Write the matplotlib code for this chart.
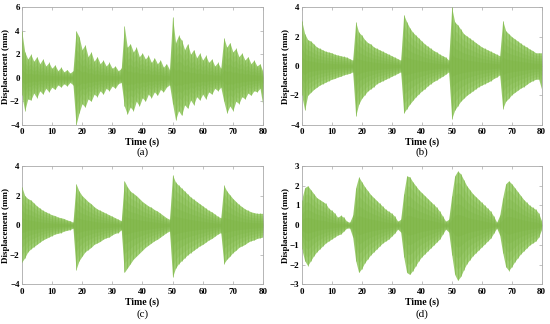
import numpy as np
import matplotlib.pyplot as plt

plt.rcParams['font.family'] = ['Liberation Serif', 'DejaVu Serif']

# time axis (s), one envelope value per second
t = np.arange(0, 81)

# (a) upper / lower envelope of the displacement (mm)
a_up = [4.0, 2.2, 1.6, 2.0, 1.4, 1.8, 1.2, 1.6, 1.0, 1.3, 0.8, 1.1, 0.6, 0.9, 0.5, 0.7, 0.4, 0.6,
        4.0, 3.5, 2.4, 2.8, 1.8, 2.2, 1.4, 1.8, 1.2, 1.5, 1.0, 1.3, 0.8, 1.0, 0.6, 0.8,
        4.4, 2.6, 2.9, 2.2, 2.6, 1.8, 2.1, 1.6, 1.9, 1.3, 1.7, 1.2, 1.5, 0.9, 1.2, 0.7,
        5.2, 3.0, 3.6, 3.2, 2.4, 2.9, 2.0, 2.4, 1.7, 2.1, 1.5, 1.9, 1.3, 1.6, 1.0, 1.3, 0.8,
        3.4, 2.6, 3.0, 2.2, 2.5, 1.8, 2.1, 1.5, 1.8, 1.2, 1.5, 1.0, 1.2, 0.5]
a_lo = [-1.5, -2.8, -1.8, -1.9, -1.3, -1.7, -1.1, -1.4, -0.9, -1.2, -0.8, -1.0, -0.6, -0.8, -0.5, -0.7, -0.4, -0.6,
        -4.0, -3.0, -2.2, -2.5, -1.8, -2.0, -1.4, -1.6, -1.1, -1.4, -0.9, -1.1, -0.7, -0.9, -0.5, -0.4,
        -2.4, -3.1, -2.5, -2.8, -2.0, -2.4, -1.7, -2.0, -1.4, -1.7, -1.2, -1.5, -1.0, -1.2, -0.8, -0.6,
        -2.2, -3.6, -2.8, -3.2, -2.3, -2.6, -1.9, -2.3, -1.6, -1.9, -1.4, -1.8, -1.2, -1.4, -0.9, -1.1, -0.8,
        -2.0, -3.0, -2.4, -2.8, -2.0, -2.2, -1.6, -1.8, -1.3, -1.5, -1.1, -1.2, -0.9, -2.4]

# (b)
b_up = [3.1, 2.2, 1.8, 1.7, 1.5, 1.3, 1.2, 1.1, 1.0, 0.95, 0.9, 0.8, 0.75, 0.7, 0.65, 0.6, 0.5, 0.4,
        3.0, 2.3, 2.1, 1.8, 1.6, 1.5, 1.3, 1.2, 1.1, 1.0, 0.9, 0.8, 0.7, 0.6, 0.5, 0.4,
        3.5, 3.0, 2.6, 2.3, 2.1, 1.9, 1.7, 1.5, 1.35, 1.2, 1.05, 0.95, 0.8, 0.7, 0.6, 0.4,
        4.0, 3.0, 2.8, 2.5, 2.2, 2.05, 1.9, 1.75, 1.6, 1.45, 1.3, 1.2, 1.1, 1.0, 0.9, 0.8, 0.7,
        3.1, 2.4, 2.2, 2.0, 1.85, 1.7, 1.55, 1.4, 1.3, 1.15, 1.05, 0.9, 0.9, 0.9]
b_lo = [-2.0, -3.0, -2.0, -1.8, -1.6, -1.45, -1.3, -1.2, -1.1, -1.0, -0.9, -0.85, -0.75, -0.7, -0.6, -0.55, -0.5, -0.4,
        -3.4, -2.6, -2.2, -1.95, -1.7, -1.55, -1.4, -1.2, -1.1, -1.0, -0.9, -0.8, -0.7, -0.6, -0.5, -0.4,
        -3.2, -2.9, -2.6, -2.35, -2.1, -1.9, -1.7, -1.55, -1.35, -1.2, -1.05, -0.95, -0.8, -0.7, -0.55, -0.4,
        -3.6, -3.0, -2.7, -2.4, -2.2, -2.0, -1.85, -1.7, -1.55, -1.4, -1.3, -1.2, -1.1, -1.0, -0.85, -0.75, -0.6,
        -2.9, -2.4, -2.2, -1.95, -1.8, -1.65, -1.5, -1.4, -1.25, -1.1, -1.0, -0.9, -0.9, -1.6]

# (c)
c_up = [2.6, 2.0, 1.8, 1.7, 1.5, 1.3, 1.15, 1.0, 0.9, 0.8, 0.7, 0.65, 0.55, 0.5, 0.45, 0.35, 0.3, 0.2,
        2.8, 2.3, 2.0, 1.8, 1.6, 1.45, 1.25, 1.1, 1.0, 0.9, 0.8, 0.7, 0.6, 0.5, 0.4, 0.3,
        3.0, 2.6, 2.3, 2.15, 2.0, 1.8, 1.6, 1.45, 1.3, 1.2, 1.05, 0.95, 0.8, 0.65, 0.5, 0.4,
        3.4, 2.9, 2.7, 2.5, 2.3, 2.1, 1.9, 1.75, 1.6, 1.45, 1.3, 1.15, 1.0, 0.9, 0.75, 0.6, 0.5,
        2.7, 2.3, 2.05, 1.8, 1.6, 1.4, 1.25, 1.1, 1.0, 0.9, 0.85, 0.8, 0.8, 0.8]
c_lo = [-2.5, -2.2, -1.8, -1.6, -1.45, -1.3, -1.15, -1.0, -0.9, -0.8, -0.7, -0.6, -0.55, -0.5, -0.4, -0.35, -0.3, -0.2,
        -3.0, -2.4, -2.1, -1.8, -1.65, -1.5, -1.3, -1.2, -1.1, -0.95, -0.85, -0.8, -0.65, -0.55, -0.5, -0.3,
        -3.2, -2.9, -2.6, -2.3, -2.1, -1.9, -1.7, -1.5, -1.35, -1.2, -1.05, -0.95, -0.8, -0.65, -0.5, -0.4,
        -3.5, -2.9, -2.6, -2.4, -2.2, -2.0, -1.85, -1.7, -1.55, -1.4, -1.3, -1.15, -1.0, -0.9, -0.75, -0.6, -0.5,
        -2.6, -2.3, -2.1, -1.85, -1.7, -1.5, -1.4, -1.3, -1.15, -1.05, -1.0, -0.9, -0.85, -0.8]

# (d)
d_up = [1.3, 1.9, 2.0, 1.8, 1.6, 1.4, 1.3, 1.2, 1.1, 0.85, 0.75, 0.6, 0.4, 0.5, 0.4, 0.2, 0.15, 0.5,
        1.9, 2.45, 2.2, 1.95, 1.75, 1.55, 1.4, 1.25, 1.1, 0.95, 0.8, 0.7, 0.6, 0.45, 0.2, 0.3,
        1.6, 2.5, 2.45, 2.2, 2.0, 1.8, 1.65, 1.5, 1.35, 1.2, 1.05, 0.9, 0.7, 0.45, 0.2, 0.3,
        1.5, 2.5, 2.75, 2.6, 2.3, 2.0, 1.8, 1.6, 1.45, 1.3, 1.15, 1.0, 0.85, 0.7, 0.45, 0.15, 0.5,
        1.4, 2.1, 2.25, 2.1, 1.9, 1.7, 1.5, 1.3, 1.15, 1.0, 0.9, 0.8, 0.6, 0.2]
d_lo = [-1.2, -1.8, -2.05, -1.8, -1.55, -1.35, -1.2, -1.05, -0.9, -0.8, -0.7, -0.6, -0.5, -0.45, -0.3, -0.15, -0.15, -0.6,
        -1.8, -2.4, -2.2, -1.9, -1.7, -1.5, -1.35, -1.2, -1.05, -0.9, -0.8, -0.7, -0.55, -0.4, -0.2, -0.35,
        -1.6, -2.4, -2.5, -2.3, -2.05, -1.8, -1.6, -1.45, -1.3, -1.15, -1.0, -0.85, -0.7, -0.45, -0.2, -0.35,
        -1.5, -2.5, -2.8, -2.6, -2.25, -1.95, -1.75, -1.55, -1.4, -1.25, -1.1, -0.95, -0.8, -0.65, -0.4, -0.15, -0.5,
        -1.4, -2.1, -2.3, -2.1, -1.85, -1.65, -1.45, -1.3, -1.15, -1.0, -0.9, -0.8, -0.6, -0.2]

panels = [
    ("(a)", a_up, a_lo, (-4, 6), [-4, -2, 0, 2, 4, 6]),
    ("(b)", b_up, b_lo, (-4, 4), [-4, -2, 0, 2, 4]),
    ("(c)", c_up, c_lo, (-4, 4), [-4, -2, 0, 2, 4]),
    ("(d)", d_up, d_lo, (-3, 3), [-3, -2, -1, 0, 1, 2, 3]),
]
boxes = [
    [0.0395, 0.6151, 0.4387, 0.3623],
    [0.5485, 0.6151, 0.4364, 0.3623],
    [0.0395, 0.1225, 0.4387, 0.3651],
    [0.5485, 0.1225, 0.4364, 0.3651],
]
label_y = [-0.235, -0.235, -0.25, -0.25]

fig = plt.figure(figsize=(5.5, 3.24), dpi=100)
for (name, up, lo, ylim, yt), box, ly in zip(panels, boxes, label_y):
    ax = fig.add_axes(box)
    up = np.array(up)
    lo = np.array(lo)
    # light outer band, then softer nested bands toward the centre
    ax.fill_between(t, lo, up, color='#9ccc70', lw=0, zorder=2)
    for k in (0.8, 0.6, 0.4, 0.2):
        ax.fill_between(t, lo * k, up * k, color='#74ad3a', alpha=0.2, lw=0, zorder=3)
    ax.vlines(t, lo, up, color='#7fb748', lw=0.6, alpha=0.7, zorder=4)
    ax.set_xlim(0, 80)
    ax.set_ylim(*ylim)
    ax.set_xticks(np.arange(0, 81, 10))
    ax.set_yticks(yt)
    ax.tick_params(direction='in', length=2, width=0.5, color='#aaaaaa',
                   top=True, right=True, labelsize=6.5)
    ax.tick_params(axis='x', pad=2.5)
    ax.tick_params(axis='y', pad=1.5)
    for lab in ax.get_xticklabels() + ax.get_yticklabels():
        lab.set_fontweight('bold')
    for s in ax.spines.values():
        s.set_color('#aaaaaa')
        s.set_linewidth(0.6)
    ax.set_xlabel('Time (s)', fontsize=7, fontweight='bold', labelpad=1)
    ax.set_ylabel('Displacement (mm)', fontsize=6.5, fontweight='bold', labelpad=0)
    ax.text(0.5, ly, name, transform=ax.transAxes, ha='center', va='center', fontsize=8)

fig.savefig('out.png', dpi=100)
